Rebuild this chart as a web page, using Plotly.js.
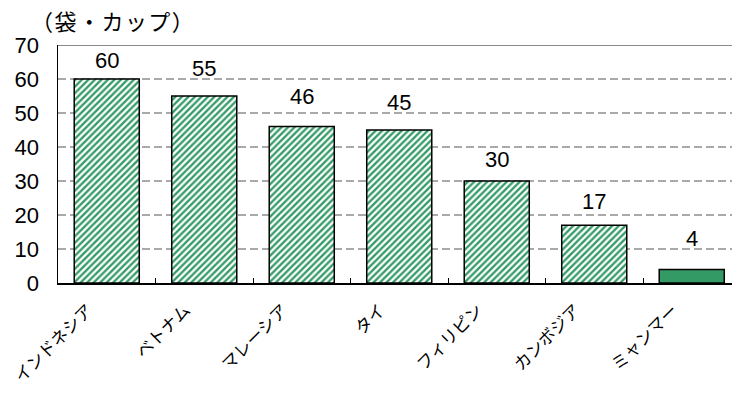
<!DOCTYPE html>
<html>
<head>
<meta charset="utf-8">
<script src="https://cdn.plot.ly/plotly-3.0.1.min.js"></script>
<style>
  html, body { margin: 0; padding: 0; background: #fff; }
  #chart { width: 732px; height: 394px; }
</style>
</head>
<body>
<div id="chart"></div>
<script>
// Instant noodle consumption per person (bags / cups)
const countries = ['インドネシア', 'ベトナム', 'マレーシア', 'タイ', 'フィリピン', 'カンボジア', 'ミャンマー'];
const values = [60, 55, 46, 45, 30, 17, 4];
const yTicks = [0, 10, 20, 30, 40, 50, 60, 70];

// last country is drawn solid, the rest hatched
const hatched = countries.map((c, i) => i < countries.length - 1);

const GREEN = '#339a66';
const JP = '"Noto Sans CJK JP", "Noto Sans", sans-serif';
const LAT = '"Liberation Sans", Arial, sans-serif';

// vertical lift (px) of each value label above its bar top
const labelLift = [19, 28, 30, 28, 22, 24, 31];

const trace = {
  type: 'bar',
  x: countries,
  y: values,
  width: 0.667,
  marker: {
    color: GREEN,
    line: { color: '#000', width: 1.5 },
    pattern: {
      shape: hatched.map(h => h ? '/' : ''),
      fgcolor: hatched.map(() => GREEN),
      bgcolor: hatched.map(() => '#ffffff'),
      size: 4.6,
      solidity: 0.5,
      fillmode: 'replace'
    }
  },
  hoverinfo: 'x+y'
};

const shapes = yTicks.filter(v => v > 0).map(v => ({
  type: 'line', xref: 'paper', yref: 'y', x0: 0, x1: 1, y0: v, y1: v,
  layer: 'below',
  line: v === yTicks[yTicks.length - 1]
    ? { color: '#8a8a8a', width: 2 }
    : { color: '#555', width: 1.2, dash: '8px,4px' }
}));

const annotations = countries.map((c, i) => ({
  x: c, y: values[i], xref: 'x', yref: 'y',
  text: String(values[i]), showarrow: false,
  yanchor: 'middle', yshift: labelLift[i],
  font: { family: LAT, size: 22, color: '#000' }
}));

const plotWidth = 732 - 58;
const catWidth = 97.5;

const sp = px => '<span style="font-size:' + px + 'px"> </span>';

const layout = {
  width: 732, height: 394,
  margin: { l: 58, r: 0, t: 45, b: 111, pad: 0 },
  paper_bgcolor: '#fff', plot_bgcolor: '#fff',
  showlegend: false,
  title: {
    text: '（' + sp(6) + '袋' + sp(8) + '・' + sp(6) + 'カ' + sp(6) + 'ッ' + sp(6) + 'プ' + sp(6) + '）',
    x: 31 / 732, xanchor: 'left', xref: 'container',
    y: 1 - 22 / 394, yanchor: 'middle', yref: 'container',
    font: { family: JP, size: 22, color: '#000' }
  },
  xaxis: {
    type: 'category',
    range: [-0.5, -0.5 + plotWidth / catWidth],
    showline: true, linecolor: '#000', linewidth: 1.5,
    ticks: 'inside', ticklen: 5, tickcolor: '#000', tickwidth: 1,
    tickson: 'boundaries',
    showgrid: false, zeroline: false,
    tickangle: -45,
    ticklabelstandoff: 9,
    ticklabelshift: -19,
    tickfont: { family: JP, size: 17, color: '#000' }
  },
  yaxis: {
    range: [0, 70],
    tickvals: yTicks,
    showline: true, linecolor: '#000', linewidth: 1.5,
    ticks: '', showgrid: false, zeroline: false,
    ticklabelstandoff: 13,
    tickfont: { family: LAT, size: 22, color: '#000' }
  },
  shapes: shapes,
  annotations: annotations,
  bargap: 0.333
};

Plotly.newPlot('chart', [trace], layout, { displayModeBar: false, staticPlot: true });
</script>
</body>
</html>
